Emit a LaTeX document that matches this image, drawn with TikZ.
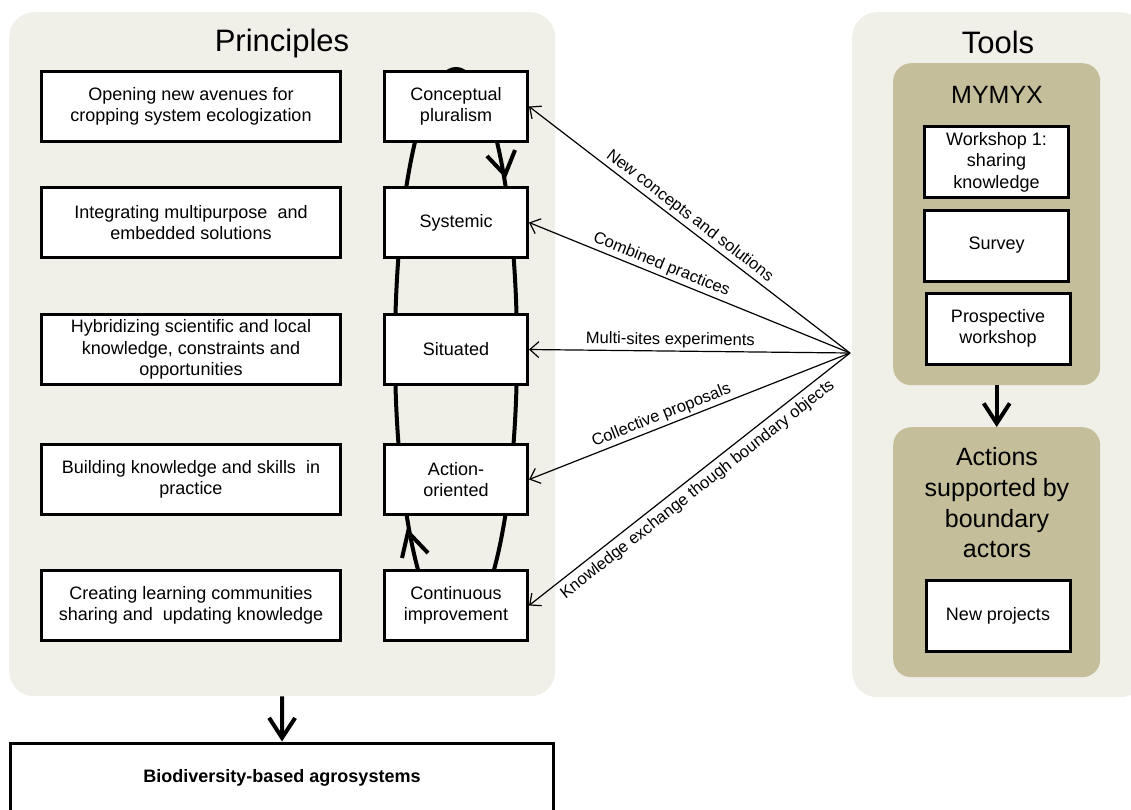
\documentclass[tikz,border=0pt]{standalone}
\usepackage{fontspec}
\setmainfont{Liberation Sans}
\usetikzlibrary{arrows.meta}
\definecolor{panelgray}{HTML}{F0EFE8}
\definecolor{khaki}{HTML}{C5BE9A}
\newcommand\myfs[2]{\fontsize{#1pt}{#2pt}\selectfont}
\begin{document}
\begin{tikzpicture}[x=1pt,y=-1pt,
  panel/.style={fill=panelgray, rounded corners=25pt, inner sep=0pt},
  subpanel/.style={fill=khaki, rounded corners=18pt, inner sep=0pt},
  boxbase/.style={draw, line width=3pt, fill=white, align=center, inner sep=2pt, font=\myfs{18}{21.5}},
  lbox/.style={boxbase, minimum width=299pt, minimum height=70pt},
  rbox/.style={boxbase, minimum width=143pt, minimum height=70pt},
  tbox/.style={boxbase, minimum width=144pt, minimum height=71pt},
  titletext/.style={font=\myfs{31}{36}},
  conn/.style={line width=1.2pt, -{Straight Barb[length=9pt,width=16pt]}},
  lbl/.style={font=\myfs{16.5}{19}, sloped, inner sep=2.5pt},
  bigarrow/.style={line width=4pt, -{Straight Barb[length=20pt,width=26pt]}},
  loopline/.style={line width=4pt}
]
\useasboundingbox (0,0) rectangle (1131,809);
\clip (0,0) rectangle (1131,809);

% panels
\node[panel, minimum width=546pt, minimum height=684pt, anchor=north west] (princ) at (9,12) {};
\node[panel, minimum width=293pt, minimum height=685pt, anchor=north west] (tools) at (852,12) {};
\node[titletext] (ptitle) at (282,43) {Principles};
\node[titletext] (ttitle) at (998,42) {Tools};

% loop
\draw[loopline] (456,350) ellipse [x radius=61, y radius=281];
\draw[loopline] (487,156) -- (505,175) -- (515,150);
\draw[loopline] (402,558) -- (408,532) -- (428,553);

% left column
\node[lbox] (l1) at (191,106.5) {Opening new avenues for\\cropping system ecologization};
\node[lbox] (l2) at (191,222.5) {Integrating multipurpose\ \ and\\embedded solutions};
\node[lbox] (l3) at (191,349.5) {Hybridizing scientific and local\\knowledge, constraints and\\opportunities};
\node[lbox] (l4) at (191,479.5) {Building knowledge and skills\ \ in\\practice};
\node[lbox] (l5) at (191,605.5) {Creating learning communities\\sharing and\ \ updating knowledge};

% right column
\node[rbox] (cp) at (456,106.5) {Conceptual\\pluralism};
\node[rbox] (sy) at (456,222.5) {Systemic};
\node[rbox] (si) at (456,349.5) {Situated};
\node[rbox] (ao) at (456,479.5) {Action-\\oriented};
\node[rbox] (ci) at (456,605.5) {Continuous\\improvement};

% tools
\node[subpanel, minimum width=207pt, minimum height=322pt, anchor=north west] (mymyx) at (893,63) {};
\node[font=\myfs{25}{30}] (mtitle) at (997,95) {MYMYX};
\node[tbox] (w1) at (996.5,162) {Workshop 1:\\sharing\\knowledge};
\node[tbox] (sv) at (996.5,245.5) {Survey};
\node[tbox] (pw) at (998,328.5) {Prospective\\workshop};

\node[subpanel, minimum width=207pt, minimum height=250pt, anchor=north west] (actions) at (893,427) {};
\node[font=\myfs{25}{30.7}, align=center] (atitle) at (997,503) {Actions\\supported by\\boundary\\actors};
\node[tbox] (np) at (998,616) {New projects};

\draw[bigarrow] (mymyx.south) -- (actions.north);

% hub connectors
\coordinate (hub) at (850,353);
\draw[conn] (hub) -- node[lbl, above, pos=0.52] {New concepts and solutions} (cp.east);
\draw[conn] (hub) -- node[lbl, above, pos=0.60] {Combined practices} (sy.east);
\draw[conn] (hub) -- node[lbl, above, pos=0.56] {Multi-sites experiments} (si.east);
\draw[conn] (hub) -- node[lbl, above, pos=0.575] {Collective proposals} (ao.east);
\draw[conn] (hub) -- node[lbl, below, pos=0.50, inner sep=5pt] {Knowledge exchange though boundary objects} (ci.east);

% bottom
\node[draw, line width=3pt, fill=white, minimum width=543pt, minimum height=100pt, anchor=north, inner sep=0pt] (bio) at (282,741.5) {};
\node[font=\bfseries\myfs{18}{21.5}] (biotext) at (282,778) {Biodiversity-based agrosystems};
\draw[bigarrow] (princ.south) -- (bio.north);
\end{tikzpicture}
\end{document}
